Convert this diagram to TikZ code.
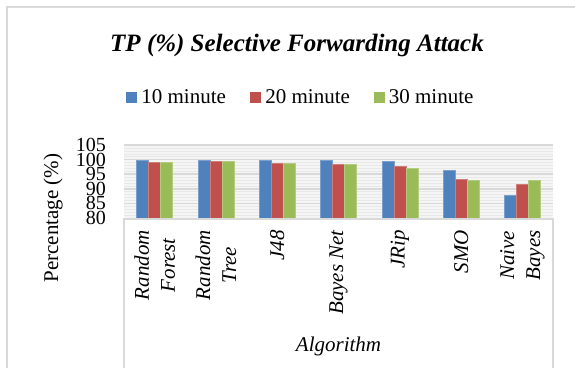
\documentclass[tikz,border=0pt]{standalone}
\usepackage{fontspec}
\setmainfont{Liberation Serif}
\definecolor{sblue}{HTML}{4F81BD}
\definecolor{sred}{HTML}{C0504D}
\definecolor{sgreen}{HTML}{9BBB59}
\definecolor{gridc}{HTML}{D9D9D9}
\definecolor{minorc}{HTML}{E8E8E8}
\definecolor{plotbg}{HTML}{F5F5F5}
\definecolor{framec}{HTML}{D9D9D9}
\begin{document}
\begin{tikzpicture}[x=1pt,y=-1pt,
  ticklab/.style={anchor=east,inner sep=0pt,font=\fontsize{20}{20}\selectfont},
  catlab/.style={rotate=90,anchor=east,inner sep=0pt,align=center,font=\fontsize{21}{26}\selectfont\itshape},
  legtxt/.style={anchor=west,inner sep=0pt,font=\fontsize{21}{24}\selectfont},
  legsq/.style={minimum size=11pt,inner sep=0pt,draw=none},
  barb/.style={line width=0.5pt}
]
\useasboundingbox (0,0) rectangle (575,368);
% outer frame
\draw[framec,line width=1.5pt] (7,368) -- (7,7) -- (575,7);
% title
\node[font=\fontsize{25}{28}\selectfont\bfseries\itshape,inner sep=0pt] (title) at (297,45) {TP (\%) Selective Forwarding Attack};
% legend
\node[legsq,fill=sblue] (l1) at (131.5,97) {};
\node[legtxt] (t1) at (l1.east) [xshift=4pt] {10 minute};
\node[legsq,fill=sred] (l2) at (255.5,97) {};
\node[legtxt] (t2) at (l2.east) [xshift=4pt] {20 minute};
\node[legsq,fill=sgreen] (l3) at (379,97) {};
\node[legtxt] (t3) at (l3.east) [xshift=4pt] {30 minute};
% plot background
\fill[plotbg] (124,145) rectangle (553,218);
\foreach \v in {81,...,104}{
  \draw[minorc,line width=0.5pt] (124,{218-(\v-80)*2.92}) -- (553,{218-(\v-80)*2.92});
}
\foreach \v in {85,90,...,105}{
  \draw[gridc,line width=1.5pt] (124,{218-(\v-80)*2.92}) -- (553,{218-(\v-80)*2.92});
}
% tick labels
\foreach \v/\n in {80/a,85/b,90/c,95/d,100/e,105/f}{
  \node[ticklab] (tick\n) at (106,{218-(\v-80)*2.92}) {\v};
}
% y axis title
\node[rotate=90,inner sep=0pt,font=\fontsize{21}{24}\selectfont] (ytitle) at (53,218) {Percentage (\%)};
% bars
\foreach \i/\a/\b/\c in {0/99.9/99.2/99.2, 1/99.9/99.3/99.3, 2/99.7/98.6/98.9, 3/99.9/98.3/98.5, 4/99.4/97.8/97.2, 5/96.3/93.2/93.0, 6/87.7/91.6/93.0}{
  \pgfmathsetmacro{\cx}{124+(\i+0.5)*61.3}
  \filldraw[barb,fill=sblue,draw=sblue!75!white] ({\cx-18},218) rectangle ({\cx-6},{218-(\a-80)*2.92});
  \filldraw[barb,fill=sred,draw=sred!75!white] ({\cx-6},218) rectangle ({\cx+6},{218-(\b-80)*2.92});
  \filldraw[barb,fill=sgreen,draw=sgreen!75!white] ({\cx+6},218) rectangle ({\cx+18},{218-(\c-80)*2.92});
}
% axis and category box
\draw[gridc,line width=2pt] (123,218.5) -- (554,218.5);
\draw[gridc,line width=1.5pt] (124,219) -- (124,368);
\draw[gridc,line width=1.5pt] (553,219) -- (553,368);
% category labels
\foreach \i/\t in {0/{Random\\Forest}, 1/{Random\\Tree}, 2/{J48}, 3/{Bayes Net}, 4/{JRip}, 5/{SMO}, 6/{Naive\\Bayes}}{
  \pgfmathsetmacro{\cx}{124+(\i+0.5)*61.3}
  \node[catlab] (cat\i) at (\cx,230) {\t};
}
% x axis title
\node[inner sep=0pt,font=\fontsize{21}{24}\selectfont\itshape] (xtitle) at (338.5,346) {Algorithm};
\end{tikzpicture}
\end{document}
